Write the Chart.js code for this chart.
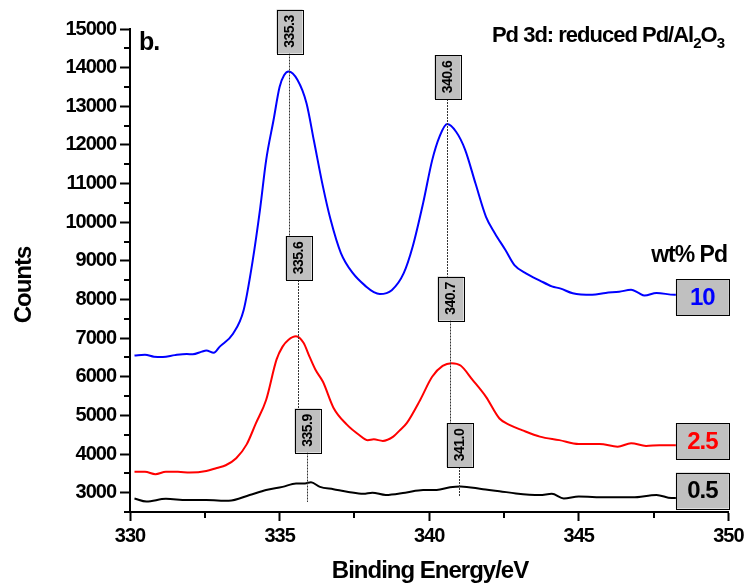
<!DOCTYPE html>
<html lang="en">
<head>
    <meta charset="UTF-8">
    <title>Pd 3d: reduced Pd/Al2O3</title>
    <script src="https://cdn.jsdelivr.net/npm/chart.js@4.4.1/dist/chart.umd.min.js"></script>
    <style>
        body { margin: 0; background: #fff; }
        canvas { display: block; }
    </style>
</head>
<body>
    <canvas id="xpsChart" width="748" height="586"></canvas>

    <script>
        // Pd 3d spectra, binding energy (eV) vs counts
        const bePd10 = [330.15, 330.5, 330.8, 331.1, 331.5, 331.9, 332.1, 332.4, 332.55, 332.8, 333.0, 333.45, 333.8,
            334.1, 334.35, 334.55, 334.8, 335.0, 335.15, 335.3, 335.6, 335.9, 336.15, 336.45, 336.7, 337.05, 337.45,
            337.9, 338.15, 338.35, 338.75, 339.15, 339.45, 339.8, 340.1, 340.35, 340.6, 340.9, 341.2, 341.55, 341.9,
            342.2, 342.55, 342.85, 343.25, 343.7, 344.1, 344.4, 344.8, 345.45, 345.9, 346.35, 346.75, 347.0, 347.2,
            347.6, 348.2, 348.6, 349.0, 349.5, 350.0];
        const cntPd10 = [6550, 6570, 6520, 6510, 6560, 6590, 6580, 6650, 6680, 6620, 6780, 7120, 7730,
            9000, 10350, 11600, 12650, 13500, 13800, 13900, 13680, 13080, 12100, 10920, 10080, 9200, 8680,
            8330, 8190, 8140, 8240, 8680, 9370, 10500, 11600, 12220, 12540, 12340, 11880, 11000, 10140,
            9710, 9280, 8890, 8670, 8490, 8340, 8280, 8160, 8120, 8170, 8200, 8250, 8170, 8100,
            8170, 8120, 8130, 8120, 8130, 8120];

        const bePd25 = [330.15, 330.5, 330.85, 331.2, 331.6, 332.0, 332.55, 332.9, 333.2, 333.55, 333.9, 334.2, 334.55, 334.9,
            335.1, 335.3, 335.55, 335.8, 336.0, 336.2, 336.45, 336.8, 337.25, 337.65, 337.95, 338.15, 338.45, 338.8, 339.0,
            339.25, 339.7, 340.1, 340.45, 340.75, 341.05, 341.45, 341.9, 342.35, 342.7, 343.1, 343.7, 344.35, 345.0,
            345.7, 346.3, 346.75, 347.25, 347.7, 348.2, 349.0, 350.0];
        const cntPd25 = [3540, 3540, 3480, 3540, 3540, 3520, 3560, 3640, 3710, 3890, 4250, 4780, 5400, 6450,
            6780, 6960, 7050, 6880, 6520, 6180, 5870, 5200, 4760, 4500, 4360, 4380, 4340, 4450, 4600,
            4800, 5400, 6000, 6280, 6350, 6290, 5920, 5480, 4920, 4750, 4620, 4450, 4360, 4260,
            4260, 4190, 4280, 4210, 4230, 4230, 4230, 4230];

        const bePd05 = [330.15, 330.55, 331.2, 331.9, 332.55, 333.3, 334.0, 334.55, 335.1, 335.55, 335.85, 336.05, 336.35,
            336.8, 337.3, 337.8, 338.1, 338.55, 339.2, 339.8, 340.25, 340.7, 341.05, 341.8, 342.35, 342.9, 343.7,
            344.1, 344.5, 345.0, 345.9, 346.8, 347.6, 348.1, 349.0, 350.0];
        const cntPd05 = [2850, 2770, 2840, 2810, 2810, 2790, 2940, 3070, 3150, 3240, 3240, 3270, 3150,
            3090, 3020, 2970, 3000, 2940, 3000, 3070, 3070, 3140, 3160, 3090, 3040, 2980, 2940,
            2970, 2850, 2900, 2880, 2880, 2940, 2860, 2870, 2870];

        const loadings = ['10', '2.5', '0.5'];
        const lineColors = ['#0000ff', '#ff0000', '#000000'];

        // peak maxima
        const peakEnergies = [335.3, 335.6, 335.9, 340.6, 340.7, 341.0];

        const xTicks = [330, 335, 340, 345, 350];
        const yTicks = [3000, 4000, 5000, 6000, 7000, 8000, 9000, 10000, 11000, 12000, 13000, 14000, 15000];

        // where each peak tag sits (box centre) and how far its dotted drop line runs
        const tagLayout = [
            { at: 14935, to: 9643 }, { at: 9073, to: 5191 }, { at: 4609, to: 2759 },
            { at: 13758, to: 8582 }, { at: 8025, to: 4803 }, { at: 4234, to: 2888 }
        ];
        const legendLayout = [8064, 4337, 3056];

        const FONT = '"Liberation Sans", Arial, sans-serif';
        const TAG_FILL = '#c0c0c0';

        const toPoints = (xs, ys) => xs.map((x, i) => ({ x, y: ys[i] }));

        const spectra = [toPoints(bePd10, cntPd10), toPoints(bePd25, cntPd25), toPoints(bePd05, cntPd05)];

        // minor ticks, both axes
        const minorTicks = {
            id: 'minorTicks',
            afterDraw(chart) {
                const { ctx, chartArea, scales } = chart;
                ctx.save();
                ctx.strokeStyle = '#000';
                ctx.lineWidth = 2;
                for (let v = 2500; v <= 15000; v += 1000) {
                    const y = Math.round(scales.y.getPixelForValue(v));
                    ctx.beginPath();
                    ctx.moveTo(chartArea.left, y);
                    ctx.lineTo(chartArea.left - 6, y);
                    ctx.stroke();
                }
                for (let v = 332.5; v < 350; v += 5) {
                    const x = Math.round(scales.x.getPixelForValue(v));
                    ctx.beginPath();
                    ctx.moveTo(x, chartArea.bottom);
                    ctx.lineTo(x, chartArea.bottom + 6);
                    ctx.stroke();
                }
                ctx.restore();
            }
        };

        const drawTag = (ctx, cx, cy, w, h) => {
            ctx.fillStyle = TAG_FILL;
            ctx.fillRect(cx - w / 2, cy - h / 2, w, h);
            ctx.strokeStyle = '#000';
            ctx.lineWidth = 1;
            ctx.strokeRect(Math.round(cx - w / 2) + 0.5, Math.round(cy - h / 2) + 0.5, w, h);
        };

        // peak position tags with dotted drop lines, plus loading tags on the right
        const peakTags = {
            id: 'peakTags',
            afterDraw(chart) {
                const { ctx, scales } = chart;
                const x = scales.x, y = scales.y;
                ctx.save();
                peakEnergies.forEach((e, i) => {
                    const px = Math.round(x.getPixelForValue(e)) + 0.5;
                    const cy = y.getPixelForValue(tagLayout[i].at);
                    const h = 44, w = 26;
                    ctx.strokeStyle = '#333';
                    ctx.lineWidth = 1;
                    ctx.setLineDash([2, 1]);
                    ctx.beginPath();
                    ctx.moveTo(px, cy + h / 2);
                    ctx.lineTo(px, y.getPixelForValue(tagLayout[i].to));
                    ctx.stroke();
                    ctx.setLineDash([]);
                    drawTag(ctx, px, cy, w, h);
                    ctx.save();
                    ctx.translate(px + 1, cy);
                    ctx.rotate(-Math.PI / 2);
                    ctx.fillStyle = '#000';
                    ctx.font = 'bold 14px ' + FONT;
                    ctx.letterSpacing = '-0.5px';
                    ctx.textAlign = 'center';
                    ctx.textBaseline = 'middle';
                    ctx.fillText(e.toFixed(1), 0, 0);
                    ctx.restore();
                });

                loadings.forEach((t, i) => {
                    const cx = chart.chartArea.right - 26;
                    const cy = y.getPixelForValue(legendLayout[i]);
                    drawTag(ctx, cx, cy, 53, 36);
                    ctx.fillStyle = lineColors[i];
                    ctx.font = 'bold 24px ' + FONT;
                    ctx.letterSpacing = '-1px';
                    ctx.textAlign = 'center';
                    ctx.textBaseline = 'middle';
                    ctx.fillText(t, cx, cy + 1);
                });
                ctx.restore();
            }
        };

        // titles and captions
        const captions = {
            id: 'captions',
            afterDraw(chart) {
                const { ctx, chartArea } = chart;
                ctx.save();
                ctx.fillStyle = '#000';
                ctx.letterSpacing = '-1px';
                ctx.textBaseline = 'alphabetic';

                ctx.font = 'bold 25px ' + FONT;
                ctx.textAlign = 'left';
                ctx.fillText('b.', chartArea.left + 9, 50);

                // Pd 3d: reduced Pd/Al2O3 with subscripts
                const big = 'bold 22px ' + FONT, small = 'bold 15px ' + FONT;
                const parts = [['Pd 3d: reduced Pd/Al', big, 0], ['2', small, 6], ['O', big, 0], ['3', small, 6]];
                let total = 0;
                parts.forEach(p => { ctx.font = p[1]; total += ctx.measureText(p[0]).width; });
                let tx = 724 - total;
                parts.forEach(p => {
                    ctx.font = p[1];
                    ctx.fillText(p[0], tx, 42 + p[2]);
                    tx += ctx.measureText(p[0]).width;
                });

                ctx.font = 'bold 23px ' + FONT;
                ctx.textAlign = 'right';
                ctx.fillText('wt% Pd', 727, 262);

                ctx.font = 'bold 24px ' + FONT;
                ctx.textAlign = 'center';
                ctx.fillText('Binding Energy/eV', 430, 578);

                ctx.translate(31, 285);
                ctx.rotate(-Math.PI / 2);
                ctx.fillText('Counts', 0, 0);
                ctx.restore();
            }
        };

        const letterSpacing = {
            id: 'letterSpacing',
            beforeDraw(chart) { chart.ctx.letterSpacing = '-1px'; }
        };

        new Chart(document.getElementById('xpsChart'), {
            type: 'line',
            data: {
                datasets: spectra.map((pts, i) => ({
                    label: loadings[i],
                    data: pts,
                    borderColor: lineColors[i],
                    borderWidth: 2,
                    pointRadius: 0,
                    cubicInterpolationMode: 'monotone',
                    fill: false
                }))
            },
            options: {
                responsive: false,
                animation: false,
                events: [],
                layout: { padding: { left: 0, right: 19, top: 29, bottom: 0 } },
                plugins: { legend: { display: false }, tooltip: { enabled: false } },
                scales: {
                    x: {
                        type: 'linear',
                        min: 330,
                        max: 350,
                        afterBuildTicks: s => { s.ticks = xTicks.map(v => ({ value: v })); },
                        afterFit: s => { s.height = 74; },
                        ticks: {
                            color: '#000',
                            padding: 3,
                            font: { family: FONT, size: 20, weight: 'bold' },
                            callback: v => v
                        },
                        grid: { drawOnChartArea: false, tickLength: 9, tickWidth: 2, tickColor: '#000' },
                        border: { color: '#000', width: 2 }
                    },
                    y: {
                        min: 2500,
                        max: 15000,
                        afterBuildTicks: s => { s.ticks = yTicks.map(v => ({ value: v })); },
                        afterFit: s => { s.width = 130; },
                        ticks: {
                            color: '#000',
                            padding: 4,
                            font: { family: FONT, size: 20, weight: 'bold' },
                            callback: v => v
                        },
                        grid: { drawOnChartArea: false, tickLength: 10, tickWidth: 2, tickColor: '#000' },
                        border: { color: '#000', width: 2 }
                    }
                }
            },
            plugins: [letterSpacing, minorTicks, peakTags, captions]
        });
    </script>
</body>
</html>
